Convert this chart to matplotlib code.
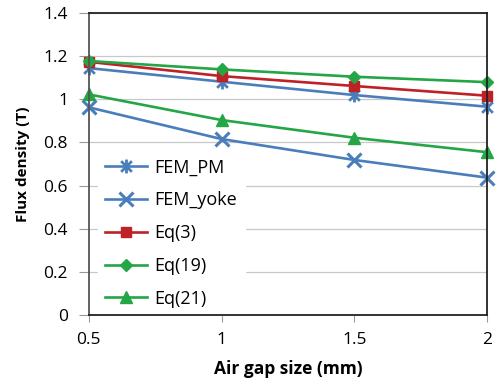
import numpy as np
import matplotlib
matplotlib.use("Agg")
import matplotlib.pyplot as plt
from matplotlib.path import Path

plt.rcParams['font.family'] = ['Open Sans', 'DejaVu Sans']

# data
gap = [0.5, 1.0, 1.5, 2.0]
fem_pm = [1.145, 1.082, 1.020, 0.966]
fem_yoke = [0.963, 0.816, 0.719, 0.637]
eq3 = [1.174, 1.108, 1.062, 1.017]
eq19 = [1.178, 1.139, 1.105, 1.080]
eq21 = [1.023, 0.904, 0.822, 0.755]

blue = '#4A7EBB'
red = '#BE2126'
green = '#24A646'

# excel style asterisk: an x with a vertical bar
star = Path([(-1, -1), (1, 1), (-1, 1), (1, -1), (0, -1.3), (0, 1.3)],
            [Path.MOVETO, Path.LINETO, Path.MOVETO, Path.LINETO, Path.MOVETO, Path.LINETO])

fig = plt.figure(figsize=(4.99, 3.86), dpi=100)
ax = fig.add_axes([0.178, 0.184, 0.798, 0.782])

lw = 1.9
ax.plot(gap, fem_pm, color=blue, lw=lw, marker=star, ms=10, mew=2.0, label='FEM_PM')
ax.plot(gap, fem_yoke, color=blue, lw=lw, marker='x', ms=10, mew=2.2, label='FEM_yoke')
ax.plot(gap, eq3, color=red, lw=lw, marker='s', ms=6.5, label='Eq(3)')
ax.plot(gap, eq19, color=green, lw=lw, marker='D', ms=6.5, label='Eq(19)')
ax.plot(gap, eq21, color=green, lw=lw, marker='^', ms=8, label='Eq(21)')

ax.set_xlim(0.5, 2)
ax.set_ylim(0, 1.4)
ax.set_xticks([0.5, 1, 1.5, 2])
ax.set_xticklabels(['0.5', '1', '1.5', '2'])
ax.set_yticks(np.arange(0, 1.41, 0.2))
ax.set_yticklabels(['0', '0.2', '0.4', '0.6', '0.8', '1', '1.2', '1.4'])
ax.yaxis.grid(True, color='#c8c8c8', lw=0.9)
ax.set_axisbelow(True)
for s in ax.spines.values():
    s.set_color('#222222')
    s.set_linewidth(1.3)
    s.set_zorder(5)
ax.spines['left'].set_color('#555555')
for m in ax.lines:
    m.set_clip_on(False)
ax.tick_params(axis='both', labelsize=12.5, color='#999999', width=0.8)
ax.tick_params(axis='y', length=7, pad=8)
ax.tick_params(axis='x', length=5, pad=7)

ax.set_xlabel('Air gap size (mm)', fontsize=12.5, fontweight='bold', labelpad=9)
ax.set_ylabel('Flux density (T)', fontsize=11, fontweight='bold', labelpad=10)

leg = ax.legend(loc='lower left', bbox_to_anchor=(0.0, -0.03), frameon=True,
                fontsize=13, handlelength=2.3, labelspacing=0.82,
                borderaxespad=0.5, handletextpad=0.45)
leg.get_frame().set_facecolor('white')
leg.get_frame().set_edgecolor('white')
leg.get_frame().set_alpha(1)
leg.set_zorder(4)

fig.savefig('out.png', dpi=100)
